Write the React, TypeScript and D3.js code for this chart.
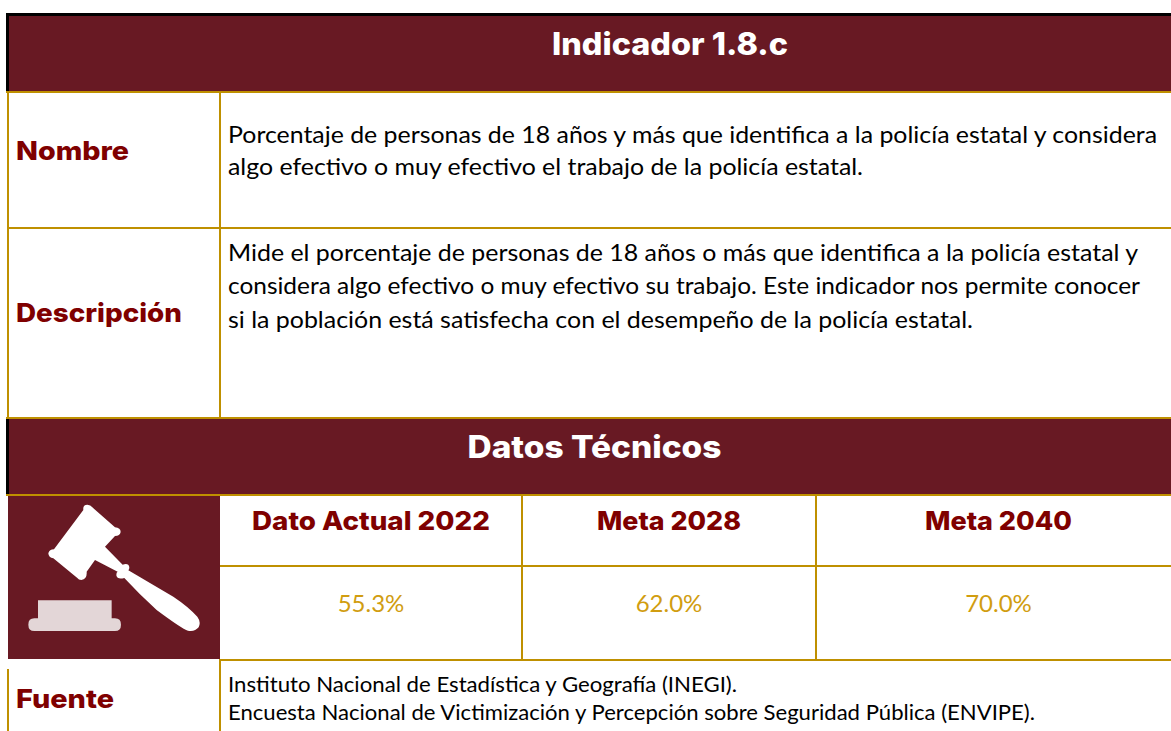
import React, { useEffect, useRef } from "react";
import * as d3 from "d3";

const title = "Indicador 1.8.c";
const sectionTitle = "Datos Técnicos";
const rowLabels = ["Nombre", "Descripción", "Fuente"];
const nombreLines = [
  "Porcentaje de personas de 18 años y más que identifica a la policía estatal y considera",
  "algo efectivo o muy efectivo el trabajo de la policía estatal.",
];
const descripcionLines = [
  "Mide el porcentaje de personas de 18 años o más que identifica a la policía estatal y",
  "considera algo efectivo o muy efectivo su trabajo. Este indicador nos permite conocer",
  "si la población está satisfecha con el desempeño de la policía estatal.",
];
const fuenteLines = [
  "Instituto Nacional de Estadística y Geografía (INEGI).",
  "Encuesta Nacional de Victimización y Percepción sobre Seguridad Pública (ENVIPE).",
];
const metaLabels = ["Dato Actual 2022", "Meta 2028", "Meta 2040"];
const metaValues = [55.3, 62.0, 70.0];

const MAROON = "#681923";
const RED = "#7f0000";
const GOLD = "#bf9000";
const VALUE_GOLD = "#d19d10";
const HEAD_FONT = "Inter, sans-serif";
const BODY_FONT = "Lato, sans-serif";

// gavel outline, in 3x crop units
const gavelPath =
  "M250 60 Q248 44 262 44 Q272 44 277 52 L345 112 Q362 114 362 126 Q360 138 345 138 L315 170 L368 224 Q386 218 388 232 Q388 240 385 241 L520 320 Q565 350 592 380 Q604 396 596 412 Q584 426 564 422 Q545 416 470 360 Q420 315 373 264 Q352 270 349 256 Q349 246 353 245 L285 210 L260 245 Q262 268 244 270 Q236 270 232 264 L160 205 Q146 204 145 190 Q148 178 162 178 Z";
const basePath =
  "M114 331 H335 V385 H345 Q363 385 363 404 Q363 423 345 423 H103 Q85 423 85 404 Q85 385 103 385 H114 Z";

const App = () => {
  const svgRef = useRef<SVGSVGElement | null>(null);

  useEffect(() => {
    if (!svgRef.current) return;
    const svg = d3.select(svgRef.current);
    svg.selectAll("*").remove();

    const width = 1171;
    const height = 731;
    svg.attr("width", width).attr("height", height).attr("viewBox", `0 0 ${width} ${height}`);

    const rect = (x: number, y: number, w: number, h: number, fill: string) =>
      svg.append("rect").attr("x", x).attr("y", y).attr("width", w).attr("height", h).attr("fill", fill);

    const text = (
      s: string, x: number, y: number, size: number, fill: string,
      font: string, weight = 400, anchor = "start", len?: number
    ) => {
      const t = svg.append("text")
        .attr("x", x).attr("y", y)
        .attr("font-family", font).attr("font-size", size)
        .attr("font-weight", weight).attr("fill", fill)
        .attr("text-anchor", anchor)
        .text(s);
      if (len) t.attr("textLength", len).attr("lengthAdjust", "spacingAndGlyphs");
      return t;
    };

    rect(0, 0, width, height, "#fff");

    // header bands
    rect(6, 13, width, 3, "#000");
    rect(6, 13, 3, 78, "#000");
    rect(9, 16, width, 75, MAROON);
    rect(6, 417, 3, 77, "#000");
    rect(9, 419, width, 75, MAROON);
    rect(8, 496, 212, 163, MAROON);

    // gold rules
    rect(6, 91, width, 2, GOLD);
    rect(7, 227, width, 2, GOLD);
    rect(6, 417, width, 2, GOLD);
    rect(6, 494, width, 2, GOLD);
    rect(220, 565, width, 2, GOLD);
    rect(219, 659, width, 2, GOLD);
    rect(7, 93, 2, 324, GOLD);
    rect(219, 93, 2, 324, GOLD);
    rect(7, 669, 2, 62, GOLD);
    rect(219, 659, 2, 72, GOLD);

    // data columns, the last one runs past the crop on the right
    const colEdges = [220, 522, 816, 1181];
    const colCentre = (i: number) => (colEdges[i] + colEdges[i + 1]) / 2;
    colEdges.slice(1, 3).forEach((e) => rect(e - 1, 496, 2, 164, GOLD));

    text(title, 670, 55, 31, "#fff", HEAD_FONT, 800, "middle", 236);
    text(sectionTitle, 594.5, 458, 31, "#fff", HEAD_FONT, 800, "middle", 254);

    text(rowLabels[0], 16, 160, 26, RED, HEAD_FONT, 800, "start", 113);
    text(rowLabels[1], 16, 322, 26, RED, HEAD_FONT, 800, "start", 166);
    text(rowLabels[2], 16, 708, 26, RED, HEAD_FONT, 800, "start", 98);

    nombreLines.forEach((l, i) => text(l, 228, 143 + i * 32, 24, "#000", BODY_FONT, 400, "start", i === 0 ? 929 : 635));
    descripcionLines.forEach((l, i) =>
      text(l, 228, 261 + i * 33.3, 24, "#000", BODY_FONT, 400, "start", [910, 912, 745][i])
    );
    fuenteLines.forEach((l, i) => text(l, 228, 692 + i * 28, 21, "#000", BODY_FONT, 400, "start", i === 0 ? 509 : 807));

    const pct = d3.format(".1f");
    metaLabels.forEach((d, i) => {
      text(d, colCentre(i), 530, 26, RED, HEAD_FONT, 800, "middle", [238, 144, 147][i]);
      text(`${pct(metaValues[i])}%`, colCentre(i), 612, 24, VALUE_GOLD, BODY_FONT, 400, "middle");
    });

    // gavel icon
    const icon = svg.append("g").attr("transform", "translate(0,490) scale(0.3333)");
    icon.append("path").attr("d", gavelPath).attr("fill", "#fff");
    icon.append("path").attr("d", basePath).attr("fill", "#e3d6d7");
  }, []);

  return <svg ref={svgRef} style={{ position: "absolute", left: 0, top: 0, display: "block" }}></svg>;
};

export default App;
